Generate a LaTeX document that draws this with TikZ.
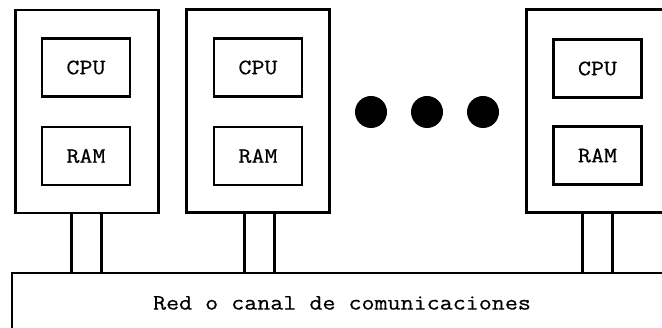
\documentclass[tikz,border=0pt]{standalone}
\usepackage{fontspec}
\setmonofont{Latin Modern Mono}[FakeStretch=1.15,FakeBold=0.6]
\begin{document}
\begin{tikzpicture}[x=1pt,y=1pt,
  box/.style={draw,line width=2.4pt,rectangle,inner sep=0pt,outer sep=0pt},
  unit/.style={box,minimum width=143pt,minimum height=203pt},
  part/.style={box,minimum width=88pt,minimum height=58pt,font=\ttfamily\fontsize{22}{24}\selectfont},
  pillar/.style={box,minimum width=30pt,minimum height=60pt},
  dot/.style={circle,fill=black,minimum size=32pt,inner sep=0pt}]
\useasboundingbox (0,0) rectangle (662,328);
\clip (0,0) rectangle (662,328);
% processing units
\node[unit] (u1) at (87,216.5) {};
\node[unit] (u2) at (258,217) {};
\node[unit] (u3) at (598,217) {};
% CPU / RAM
\node[part] (c1) at (86,260.5) {CPU};
\node[part] (r1) at (86,172) {RAM};
\node[part] (c2) at (258,260.5) {CPU};
\node[part] (r2) at (258,172) {RAM};
\node[part] (c3) at (597.5,259.5) {CPU};
\node[part] (r3) at (597.5,172.5) {RAM};
% dots
\node[dot] (d1) at (371,216) {};
\node[dot] (d2) at (427,216) {};
\node[dot] (d3) at (483,216) {};
% network
\node[box,minimum width=700pt,minimum height=80pt,anchor=north west] (net) at (12,55) {};
\node[font=\ttfamily\fontsize{22}{26}\selectfont] (lbl) at (342,25) {Red o canal de comunicaciones};
% links
\node[pillar] (p1) at (86.5,85) {};
\node[pillar] (p2) at (259.5,85) {};
\node[pillar] (p3) at (597.5,85) {};
\end{tikzpicture}
\end{document}
